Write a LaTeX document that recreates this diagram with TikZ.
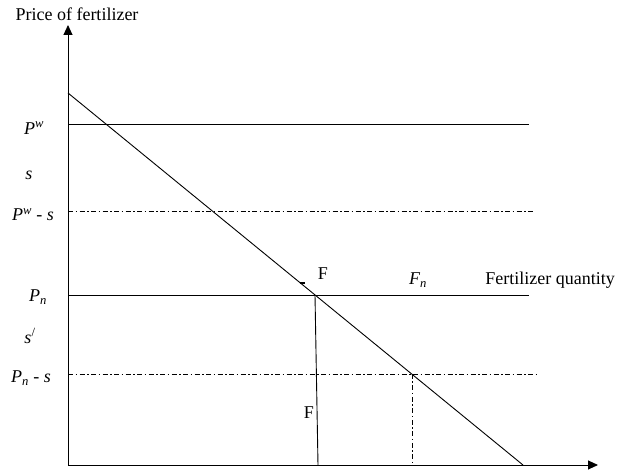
\documentclass[tikz,border=0pt]{standalone}
\usepackage{fontspec}
\setmainfont{Liberation Serif}
\usetikzlibrary{arrows.meta}
\begin{document}
\begin{tikzpicture}[x=1pt,y=1pt,
  axis/.style={line width=0.9pt,-{Triangle[length=10pt,width=9pt]}},
  curve/.style={line width=0.9pt},
  dashdot/.style={line width=0.8pt,dash pattern=on 5pt off 2.5pt on 1.5pt off 2.5pt},
  lbl/.style={font=\fontsize{18}{20}\selectfont,inner sep=0pt}]
\useasboundingbox (0,0) rectangle (622,471);
% axes
\coordinate (O) at (68,6);
\coordinate (ytop) at (68,446);
\coordinate (xend) at (598,6);
\draw[axis] (O) -- (ytop);
\draw[axis] (O) -- (xend);
% horizontal lines
\coordinate (pw0) at (68,347); \coordinate (pw1) at (529,347);
\coordinate (pws0) at (68,260); \coordinate (pws1) at (535,260);
\coordinate (pn0) at (68,176); \coordinate (pn1) at (529,176);
\coordinate (pns0) at (68,97); \coordinate (pns1) at (536,97);
\draw[curve] (pw0) -- (pw1);
\draw[dashdot] (pws0) -- (pws1);
\draw[curve] (pn0) -- (pn1);
\draw[dashdot] (pns0) -- (pns1);
% demand line
\coordinate (d0) at (68,378); \coordinate (d1) at (523,6);
\draw[curve] (d0) -- (d1);
% verticals
\coordinate (fA) at (315,176); \coordinate (fB) at (318,6);
\draw[curve] (fA) -- (fB);
\coordinate (gA) at (412,97); \coordinate (gB) at (412,6);
\draw[dashdot] (gA) -- (gB);
% small tick near F
\coordinate (t0) at (300,188); \coordinate (t1) at (305,188);
\draw[line width=1.2pt] (t0) -- (t1);
% labels
\node[lbl] (ylab) at (77,457) {Price of fertilizer};
\node[lbl] (xlab) at (550,191) {Fertilizer quantity};
\node[lbl] (lpw) at (34,343) {\textit{P}\textsuperscript{\textit{w}}};
\node[lbl] (ls) at (29,296) {\textit{s}};
\node[lbl] (lpws) at (33,256) {\textit{P}\textsuperscript{\textit{w}} - \textit{s}};
\node[lbl] (lpn) at (38,174) {\textit{P}\textsubscript{\textit{n}}};
\node[lbl] (lsp) at (30,135) {\textit{s}\textsuperscript{/}};
\node[lbl] (lpns) at (31,93) {\textit{P}\textsubscript{\textit{n}} - \textit{s}};
\node[lbl] (lF1) at (323,197) {F};
\node[lbl] (lFn) at (418,191) {\textit{F}\textsubscript{\textit{n}}};
\node[lbl] (lF2) at (309,58) {F};
\end{tikzpicture}
\end{document}
